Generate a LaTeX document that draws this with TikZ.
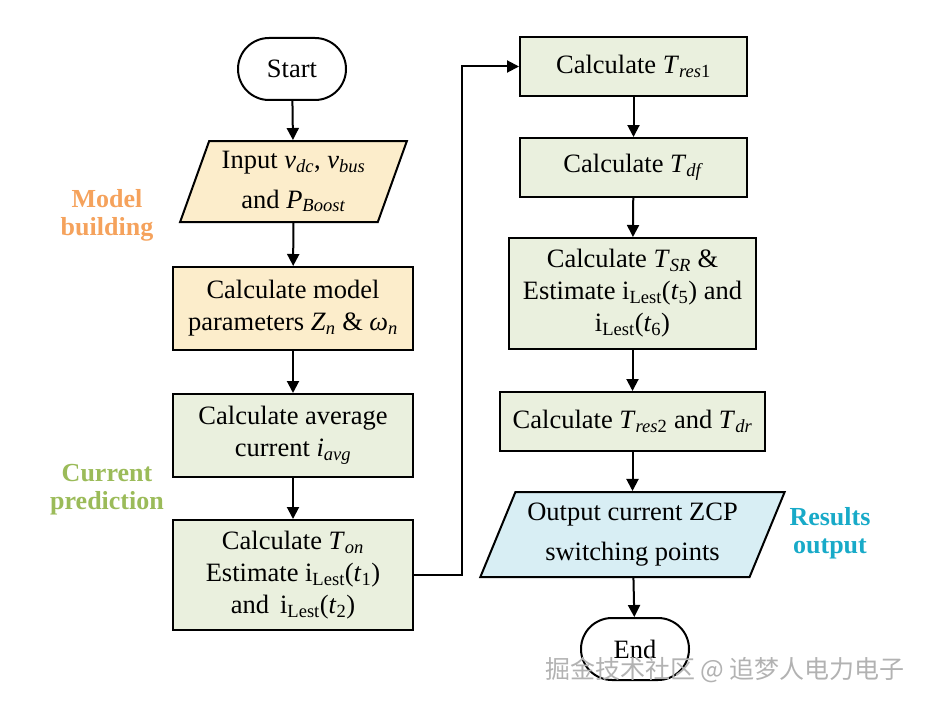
\documentclass[tikz,border=0pt]{standalone}
\usepackage{fontspec}
\setmainfont{Liberation Serif}
\newfontfamily\cjkfont{Noto Sans CJK SC}
\usetikzlibrary{arrows.meta,shapes.geometric,shapes.misc,positioning}

\definecolor{buildfill}{RGB}{252,237,203}
\definecolor{predfill}{RGB}{234,240,222}
\definecolor{outfill}{RGB}{216,238,244}
\definecolor{buildtxt}{RGB}{245,162,92}
\definecolor{predtxt}{RGB}{155,187,89}
\definecolor{outtxt}{RGB}{24,170,200}

\newcommand{\vsub}[2]{\textit{#1}\textsubscript{\textit{#2}}}
\newcommand{\iLest}[1]{i\textsubscript{Lest}(\textit{t}\textsubscript{#1})}

\begin{document}
\begin{tikzpicture}[
    x=1pt, y=-1pt,
    >={Triangle[width=12pt,length=12pt]},
    line width=2pt,
    every node/.style={font=\fontsize{26.5pt}{32pt}\selectfont, align=center},
    term/.style={draw, rounded rectangle, fill=white, minimum width=108pt, minimum height=62pt, inner sep=0pt},
    proc/.style={draw, rectangle, inner sep=0pt},
    io/.style={draw, trapezium, trapezium stretches=true, inner sep=0pt},
    tag/.style={font=\fontsize{26pt}{28pt}\selectfont\bfseries}
]
    \useasboundingbox (0,0) rectangle (925,706);

    % Left column
    \node[term] (start) at (292,69) {Start};
    \node[io, fill=buildfill, trapezium left angle=68, trapezium right angle=112,
          minimum width=227pt, minimum height=81pt] (input) at (293.5,181.5)
          {Input \vsub{v}{dc}, \vsub{v}{bus}\\[8pt] and \vsub{P}{Boost}};
    \node[proc, fill=buildfill, minimum width=240pt, minimum height=83pt] (model) at (293,308.5)
          {Calculate model\\ parameters \vsub{Z}{n} \& \vsub{ω}{n}};
    \node[proc, fill=predfill, minimum width=240pt, minimum height=83pt] (avg) at (293,435.5)
          {Calculate average\\ current \vsub{i}{avg}};
    \node[proc, fill=predfill, minimum width=240pt, minimum height=110pt] (ton) at (293,575)
          {Calculate \vsub{T}{on}\\ Estimate \iLest{1}\\ and\, \iLest{2}};

    % Right column
    \node[proc, fill=predfill, minimum width=227pt, minimum height=59pt] (tres1) at (633.5,66.5)
          {Calculate \textit{T}\textsubscript{\textit{res}1}};
    \node[proc, fill=predfill, minimum width=227pt, minimum height=59pt] (tdf) at (633.5,167.5)
          {Calculate \vsub{T}{df}};
    \node[proc, fill=predfill, minimum width=247pt, minimum height=111pt] (tsr) at (632.5,293.5)
          {Calculate \vsub{T}{SR} \&\\ Estimate \iLest{5} and\\ \iLest{6}};
    \node[proc, fill=predfill, minimum width=265pt, minimum height=59pt] (tres2) at (632.5,421.5)
          {Calculate \textit{T}\textsubscript{\textit{res}2} and \vsub{T}{dr}};
    \node[io, fill=outfill, trapezium left angle=63.5, trapezium right angle=116.5,
          minimum width=305pt, minimum height=85pt] (output) at (632.5,534.5)
          {Output current ZCP\\[8pt] switching points};
    \node[term] (end) at (635,649) {End};

    % Stage labels
    \node[tag, text=buildtxt] (lblbuild) at (107,215) {Model\\ building};
    \node[tag, text=predtxt] (lblpred) at (107,490) {Current\\ prediction};
    \node[tag, text=outtxt] (lblout) at (830,533) {Results\\ output};

    % Connectors
    \draw[->] (start) -- (input);
    \draw[->] (input) -- (model);
    \draw[->] (model) -- (avg);
    \draw[->] (avg) -- (ton);
    \draw[->] (ton.east) -- ++(48,0) |- (tres1.west);
    \draw[->] (tres1) -- (tdf);
    \draw[->] (tdf) -- (tsr);
    \draw[->] (tsr) -- (tres2);
    \draw[->] (tres2) -- (output);
    \draw[->] (output) -- (end);

    \node[text=gray!60, font=\cjkfont\fontsize{25pt}{28pt}\selectfont] (mark) at (725,670)
          {掘金技术社区 @ 追梦人电力电子};
\end{tikzpicture}
\end{document}
